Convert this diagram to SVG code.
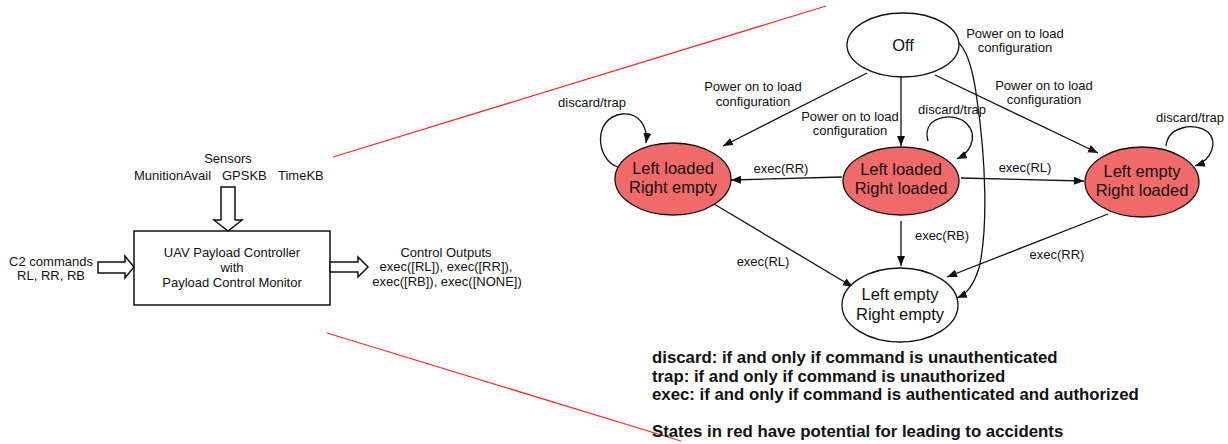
<svg xmlns="http://www.w3.org/2000/svg" width="1228" height="444" viewBox="0 0 1228 444">
  <style>
    text { font-family: "Liberation Sans", Arial, sans-serif; fill: #111; }
    .lbl { font-size: 13px; text-anchor: middle; }
    .st { font-size: 16.5px; text-anchor: middle; }
    .legend { font-size: 16.8px; font-weight: bold; }
    .state { stroke: #111; stroke-width: 1.3; }
    .red { fill: #f06a6a; }
    .white { fill: #fff; }
    .edge { fill: none; stroke: #111; stroke-width: 1.3; marker-end: url(#arrow); }
    .block { fill: #fff; stroke: #111; stroke-width: 1.5; }
    .zoom { stroke: #ff2a2a; stroke-width: 1.3; }
  </style>
  <defs>
    <marker id="arrow" markerUnits="userSpaceOnUse" markerWidth="11" markerHeight="9" refX="10" refY="4" orient="auto">
      <path d="M0,0 L10,4 L0,8 z" fill="#111"/>
    </marker>
  </defs>

  <rect width="1228" height="444" fill="#fff"/>

  <!-- zoom lines from the controller block to the state machine -->
  <g id="zoom-lines">
    <line class="zoom" x1="333" y1="157" x2="826" y2="6"/>
    <line class="zoom" x1="327" y1="333" x2="681" y2="441"/>
  </g>

  <!-- controller block -->
  <g id="controller">
    <rect x="134" y="231" width="196" height="74" fill="#fff" stroke="#111" stroke-width="1.5"/>
    <text class="lbl" x="232" y="257">UAV Payload Controller</text>
    <text class="lbl" x="232" y="272">with</text>
    <text class="lbl" x="232" y="287">Payload Control Monitor</text>
  </g>

  <g id="sensors">
    <text class="lbl" x="228" y="163">Sensors</text>
    <text style="font-size:13px"><tspan x="134" y="180">MunitionAvail</tspan><tspan x="222" y="180">GPSKB</tspan><tspan x="278" y="180">TimeKB</tspan></text>
    <polygon class="block" points="221,187 235,187 235,220 242,220 228,231 214,220 221,220 221,187"/>
  </g>

  <g id="c2-commands">
    <text class="lbl" x="51" y="266">C2 commands</text>
    <text class="lbl" x="51" y="280">RL, RR, RB</text>
    <polygon class="block" points="98,262 125,262 125,256 134,267 125,278 125,273 98,273 98,262"/>
  </g>

  <g id="control-outputs">
    <polygon class="block" points="330,262 358,262 358,257 368,267 358,277 358,272 330,272 330,262"/>
    <text class="lbl" x="446" y="257">Control Outputs</text>
    <text class="lbl" x="446" y="271">exec([RL]), exec([RR]),</text>
    <text class="lbl" x="447" y="286">exec([RB]), exec([NONE])</text>
  </g>

  <!-- state transitions -->
  <g id="connectors">
    <path class="edge" d="M867,73 L723,146"/>
    <path class="edge" d="M901,77 L901,146"/>
    <path class="edge" d="M935,75 L1098,153"/>
    <path class="edge" d="M948,40 C962,36 972,60 977,100 C986,160 988,230 979,268 C973,287 966,294 957,298"/>
    <path class="edge" d="M842,177 L731,180"/>
    <path class="edge" d="M961,178 L1084,181"/>
    <path class="edge" d="M901,221 L901,266"/>
    <path class="edge" d="M714,204 L853,287"/>
    <path class="edge" d="M1108,214 L947,277"/>
    <path class="edge" d="M618,167 C596,160 592,118 622,114 C640,112 648,128 646,143"/>
    <path class="edge" d="M928,141 C922,120 945,112 962,120 C978,130 975,150 957,159"/>
    <path class="edge" d="M1166,146 C1168,126 1195,122 1208,132 C1218,142 1212,160 1195,166"/>
  </g>

  <g id="edge-labels">
    <text class="lbl" x="1015" y="38">Power on to load</text>
    <text class="lbl" x="1015" y="52">configuration</text>
    <text class="lbl" x="753" y="91">Power on to load</text>
    <text class="lbl" x="753" y="106">configuration</text>
    <text class="lbl" x="850" y="121">Power on to load</text>
    <text class="lbl" x="850" y="135">configuration</text>
    <text class="lbl" x="1044" y="90">Power on to load</text>
    <text class="lbl" x="1044" y="104">configuration</text>
    <text class="lbl" x="592" y="107">discard/trap</text>
    <text class="lbl" x="952" y="114">discard/trap</text>
    <text class="lbl" x="1190" y="122">discard/trap</text>
    <text class="lbl" x="781" y="173">exec(RR)</text>
    <text class="lbl" x="1025" y="172">exec(RL)</text>
    <text class="lbl" x="942" y="240">exec(RB)</text>
    <text class="lbl" x="763" y="266">exec(RL)</text>
    <text class="lbl" x="1057" y="259">exec(RR)</text>
  </g>

  <g id="off">
    <ellipse class="state white" cx="903" cy="45" rx="56" ry="32"/>
    <text class="st" x="903" y="51">Off</text>
  </g>

  <g id="left-loaded-right-empty">
    <ellipse class="state red" cx="673" cy="179" rx="58" ry="36"/>
    <text class="st" x="673" y="174">Left loaded</text>
    <text class="st" x="673" y="193">Right empty</text>
  </g>

  <g id="left-loaded-right-loaded">
    <ellipse class="state red" cx="901" cy="181" rx="58" ry="34"/>
    <text class="st" x="901" y="175">Left loaded</text>
    <text class="st" x="901" y="194">Right loaded</text>
  </g>

  <g id="left-empty-right-loaded">
    <ellipse class="state red" cx="1142" cy="182" rx="57" ry="35"/>
    <text class="st" x="1142" y="177">Left empty</text>
    <text class="st" x="1142" y="196">Right loaded</text>
  </g>

  <g id="left-empty-right-empty">
    <ellipse class="state white" cx="900" cy="305" rx="58" ry="37"/>
    <text class="st" x="900" y="300">Left empty</text>
    <text class="st" x="900" y="320">Right empty</text>
  </g>

  <g id="legend">
    <text class="legend" x="652" y="363">discard: if and only if command is unauthenticated</text>
    <text class="legend" x="652" y="382">trap: if and only if command is unauthorized</text>
    <text class="legend" x="652" y="400">exec: if and only if command is authenticated and authorized</text>
    <text class="legend" x="652" y="437">States in red have potential for leading to accidents</text>
  </g>
</svg>
